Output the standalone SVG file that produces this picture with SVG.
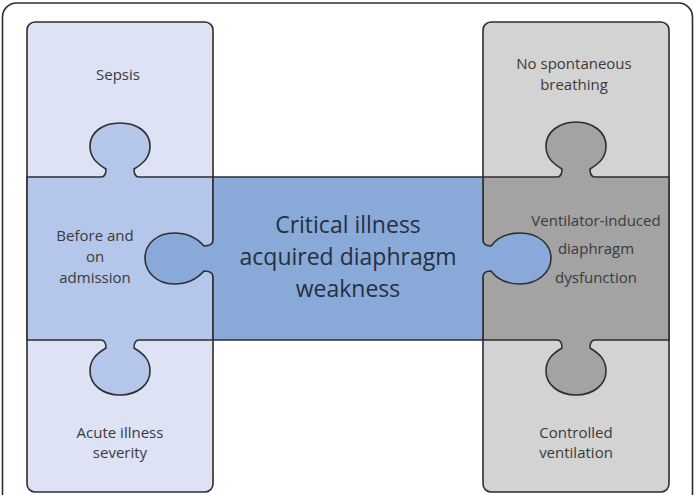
<svg xmlns="http://www.w3.org/2000/svg" width="695" height="495" viewBox="0 0 695 495">
<style>
.ln{stroke:#2e2e2e;stroke-width:1.6;stroke-linejoin:round}
.lt{font-family:"Open Sans","Liberation Sans",sans-serif;font-size:15px;fill:#3a3a3a;text-anchor:middle}
.ct{font-family:"Open Sans","Liberation Sans",sans-serif;font-size:23px;fill:#26303c;text-anchor:middle}
</style>
<rect x="2.5" y="3" width="690" height="520" rx="14" fill="#ffffff" class="ln"/>
<g id="left-column">
<rect x="27" y="22" width="186" height="470" rx="8" fill="#dde2f4" class="ln"/>
<path d="M27,177 H101 C105,177 106,173 106,169 C96,163 90,157 90,146 C90,132 103,123 120,123 C137,123 150,132 150,146 C150,157 144,163 134,169 C134,173 135,177 139,177 H213 V340 H139 C135,340 134,344 134,348 C144,354 150,360 150,371 C150,385 137,395 120,395 C103,395 90,385 90,371 C90,360 96,354 106,348 C106,344 105,340 101,340 H27 Z" fill="#b4c6ea" class="ln"/>
<text class="lt" x="118" y="80">Sepsis</text>
<text class="lt" x="95" y="241">Before and</text>
<text class="lt" x="95" y="262">on</text>
<text class="lt" x="95" y="283">admission</text>
<text class="lt" x="120" y="438">Acute illness</text>
<text class="lt" x="120" y="458">severity</text>
</g>
<g id="right-column">
<rect x="483" y="22" width="186" height="470" rx="8" fill="#d3d3d3" class="ln"/>
<path d="M483,177 H557 C561,177 562,173 562,169 C552,163 546,157 546,146 C546,132 559,122 576,122 C593,122 606,132 606,146 C606,157 600,163 590,169 C590,173 591,177 595,177 H669 V340 H595 C591,340 590,344 590,348 C600,354 606,360 606,371 C606,385 593,395 576,395 C559,395 546,385 546,371 C546,360 552,354 562,348 C562,344 561,340 557,340 H483 Z" fill="#a3a3a3" class="ln"/>
<text class="lt" x="574" y="69">No spontaneous</text>
<text class="lt" x="574" y="90">breathing</text>
<text class="lt" x="596" y="226">Ventilator-induced</text>
<text class="lt" x="596" y="254">diaphragm</text>
<text class="lt" x="596" y="283">dysfunction</text>
<text class="lt" x="576" y="438">Controlled</text>
<text class="lt" x="576" y="458">ventilation</text>
</g>
<g id="center-piece">
<path d="M213,177 H483 V240 C483,244 486,246 491,246 C497,238 506,233 520,233 C538,233 551,244 551,258 C551,272 538,284 520,284 C506,284 497,279 491,271 C486,271 483,273 483,277 V340 H213 V277 C213,273 210,271 204,271 C197,279 188,284 174,284 C157,284 145,272 145,258 C145,244 157,233 174,233 C188,233 197,238 204,246 C210,246 213,244 213,240 Z" fill="#89a9d9" class="ln"/>
<text class="ct" x="348" y="233">Critical illness</text>
<text class="ct" x="348" y="265">acquired diaphragm</text>
<text class="ct" x="348" y="297">weakness</text>
</g>
<g id="connectors"/>
</svg>
